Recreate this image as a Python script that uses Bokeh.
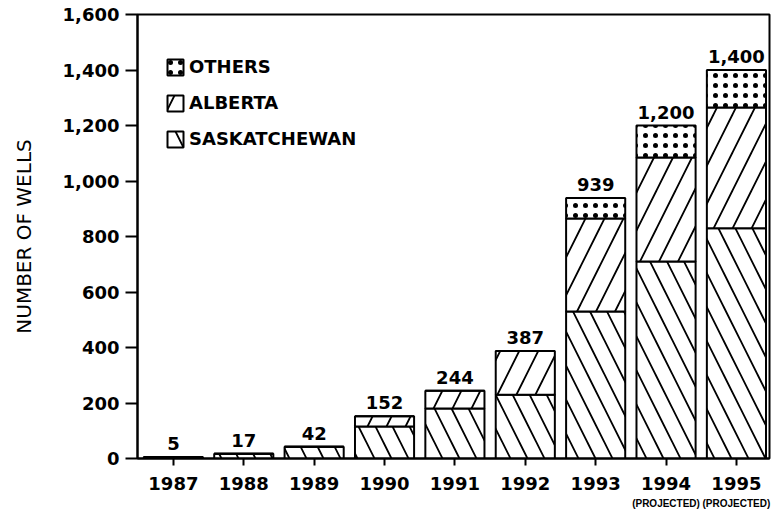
from bokeh.plotting import figure
from bokeh.models import (ColumnDataSource, Range1d, FixedTicker, NumeralTickFormatter,
                          Legend, LegendItem, LinearAxis)
from bokeh.core.properties import value
from bokeh.embed import file_html
from bokeh.resources import INLINE

years = ["1987", "1988", "1989", "1990", "1991", "1992", "1993", "1994", "1995"]
saskatchewan = [5, 17, 42, 115, 180, 230, 530, 710, 830]
alberta = [0, 0, 0, 37, 64, 157, 335, 375, 435]
others = [0, 0, 0, 0, 0, 0, 74, 115, 135]
totals = [5, 17, 42, 152, 244, 387, 939, 1200, 1400]
total_labels = ["5", "17", "42", "152", "244", "387", "939", "1,200", "1,400"]
projected_years = [7, 8]
projected_text = ["(PROJECTED)", "(PROJECTED)"]
y_ticks = [0, 200, 400, 600, 800, 1000, 1200, 1400, 1600]

FONT = "DejaVu Sans"

xs = list(range(len(years)))
src = ColumnDataSource(dict(x=xs, total=totals, label=total_labels))

p = figure(width=771, height=510, output_backend="svg", toolbar_location=None,
           x_range=Range1d(-0.51, 8.47), y_range=Range1d(0, 1600),
           min_border_left=137, min_border_right=2, min_border_top=14, min_border_bottom=52)
p.frame_width = 632
p.frame_height = 444

styles = [("\\", 34, 1.8), ("/", 38, 1.8), (".", 10, 1.0)]
renderers = []
bottom = [0] * len(xs)
for vals, (pat, scale, weight) in zip((saskatchewan, alberta, others), styles):
    top = [b + v for b, v in zip(bottom, vals)]
    r = p.vbar(x=xs, bottom=bottom, top=top, width=0.84,
               fill_color="white", line_color="black", line_width=2,
               hatch_pattern=pat, hatch_scale=scale, hatch_weight=weight,
               hatch_color="black")
    renderers.append(r)
    bottom = top

p.text(x="x", y="total", text="label", source=src, text_align="center",
       text_baseline="bottom", y_offset=-7, text_font=value(FONT),
       text_font_style="bold", text_font_size="18px", text_color="black")

p.grid.visible = False
p.outline_line_color = "black"
p.outline_line_width = 2
p.background_fill_color = "white"
p.border_fill_color = "white"

p.xaxis.ticker = FixedTicker(ticks=xs)
p.xaxis.major_label_overrides = {i: y for i, y in enumerate(years)}
p.yaxis.ticker = FixedTicker(ticks=y_ticks)
p.yaxis.formatter = NumeralTickFormatter(format="0,0")

for ax in (p.xaxis, p.yaxis):
    ax.axis_line_width = 2
    ax.axis_line_color = "black"
    ax.major_tick_line_width = 2
    ax.major_tick_line_color = "black"
    ax.minor_tick_line_color = None
    ax.major_tick_in = 0
    ax.major_label_text_font = FONT
    ax.major_label_text_font_style = "bold"
    ax.major_label_text_font_size = "18px"
    ax.major_label_text_color = "black"

p.xaxis.major_tick_out = 7
p.yaxis.major_tick_out = 12
p.xaxis.major_label_standoff = 11
p.yaxis.major_label_standoff = 6
p.yaxis.axis_label = "NUMBER OF WELLS"
p.yaxis.axis_label_text_font = FONT
p.yaxis.axis_label_text_font_style = "normal"
p.yaxis.axis_label_text_font_size = "20px"
p.yaxis.axis_label_text_color = "black"
p.yaxis.axis_label_standoff = 24

proj_axis = LinearAxis(ticker=FixedTicker(ticks=projected_years),
                       major_label_overrides={x: t for x, t in zip(projected_years, projected_text)})
proj_axis.axis_line_color = None
proj_axis.major_tick_line_color = None
proj_axis.minor_tick_line_color = None
proj_axis.major_tick_out = 0
proj_axis.major_tick_in = 0
proj_axis.major_label_standoff = 5
proj_axis.major_label_text_font = "Liberation Sans"
proj_axis.major_label_text_font_style = "bold"
proj_axis.major_label_text_font_size = "10px"
proj_axis.major_label_text_color = "black"
p.add_layout(proj_axis, "below")

legend = Legend(items=[
    LegendItem(label="OTHERS", renderers=[renderers[2]]),
    LegendItem(label="ALBERTA", renderers=[renderers[1]]),
    LegendItem(label="SASKATCHEWAN", renderers=[renderers[0]]),
], location=(28, 309), orientation="vertical")
legend.background_fill_alpha = 0
legend.border_line_color = None
legend.padding = 0
legend.margin = 0
legend.spacing = 15
legend.glyph_width = 20
legend.glyph_height = 20
legend.label_standoff = 4
legend.label_text_font = FONT
legend.label_text_font_style = "bold"
legend.label_text_font_size = "18px"
legend.label_text_color = "black"
p.add_layout(legend, "center")

open("out.html", "w").write(file_html(p, INLINE))
